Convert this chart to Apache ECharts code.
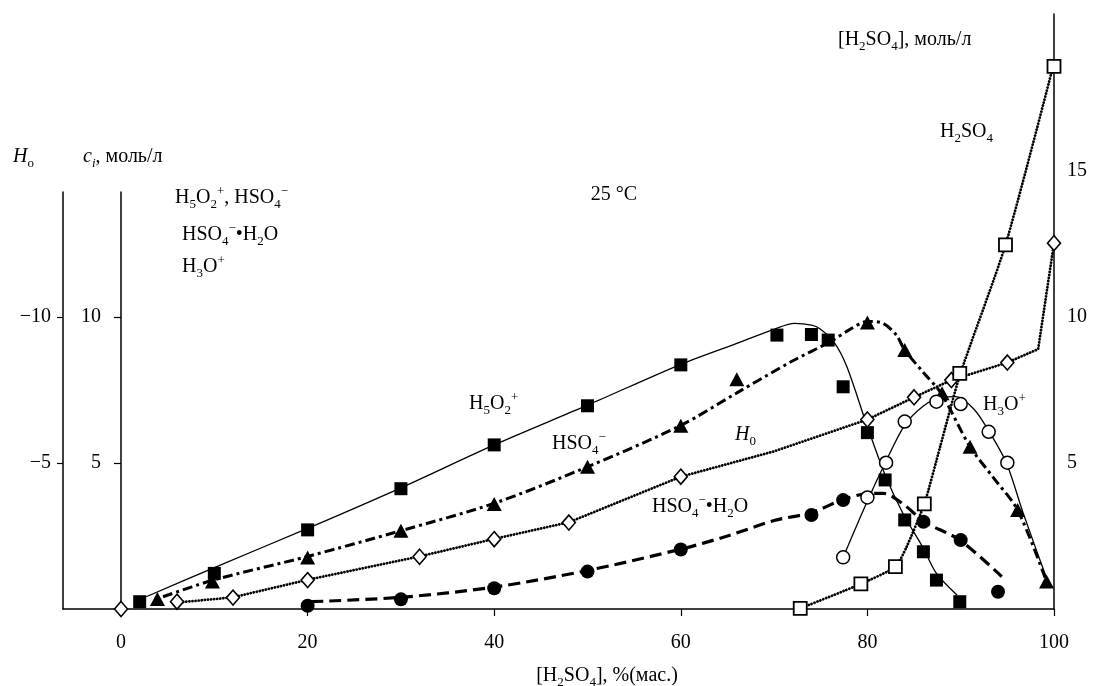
<!DOCTYPE html>
<html><head><meta charset="utf-8">
<script src="https://cdn.jsdelivr.net/npm/echarts@6/dist/echarts.min.js"></script>
<style>html,body{margin:0;padding:0;background:#fff}#c{width:1095px;height:686px}</style>
</head><body><div id="c"></div>
<script>
// ---- tick values ----
const xTicks = [0, 20, 40, 60, 80, 100];
const ciTicks = [5, 10];
const h0Ticks = [-10, -5];
const molTicks = [5, 10, 15];

// ---- measured points [ % H2SO4 , value ] ----
const h5o2Pts = [[2,0.25],[10,1.22],[20,2.71],[30,4.12],[40,5.62],[50,6.96],[60,8.36],[70.3,9.38],[74,9.40],[75.8,9.21],[77.4,7.61],[80,6.04],[81.9,4.42],[84,3.05],[86,1.96],[87.4,0.99],[89.9,0.25]];
const hso4Pts = [[3.9,0.34],[9.8,0.94],[20,1.76],[30,2.68],[40,3.6],[50,4.87],[60,6.28],[66,7.87],[80,9.81],[84,8.87],[88,7.39],[91,5.56],[96.1,3.39],[99.2,0.94]];
const h0Pts = [[0,0],[6,-0.25],[12,-0.39],[20,-0.99],[32,-1.79],[40,-2.39],[48,-2.96],[60,-4.53],[80,-6.49],[85,-7.25],[89,-7.84],[95,-8.44],[100,-12.53]];
const hydPts = [[20,0.11],[30,0.33],[40,0.71],[50,1.28],[60,2.04],[74,3.22],[77.4,3.73],[86,2.99],[90,2.36],[94,0.59]];
const h3oPts = [[77.4,1.77],[80,3.82],[82,5.01],[84,6.42],[87.4,7.1],[90,7.02],[93,6.07],[95,5.01]];
const h2so4Pts = [[72.8,0.02],[79.3,0.86],[83,1.45],[86.1,3.6],[89.9,8.07],[94.8,12.47],[100,18.58]];

// ---- fitted curves ----
const h5o2Curve = [[2.7,0.42],[10,1.42],[20,2.76],[30,4.15],[40,5.62],[50,6.98],[60,8.38],[66,9.1],[70,9.58],[72.2,9.78],[74,9.72],[74.9,9.6],[76.4,9.15],[77.8,8.3],[80,6.24],[81.9,4.59],[83.8,3.28],[86,2.08],[87.4,1.22],[89.6,0.48]];
const hso4Curve = [[4.5,0.42],[10,1.0],[20,1.8],[30,2.68],[40,3.62],[50,4.87],[60,6.29],[66,7.4],[72,8.5],[76,9.15],[78,9.55],[80,9.85],[81.7,9.78],[83.1,9.38],[84,8.87],[86,8.1],[87.9,7.39],[91,5.56],[93.5,4.5],[96.1,3.39],[99.2,0.94]];
const h0Curve = [[6,-0.22],[12,-0.4],[20,-1.0],[32,-1.8],[40,-2.4],[48,-2.97],[60,-4.53],[69.9,-5.39],[80,-6.49],[85,-7.25],[89,-7.84],[95,-8.44],[98.3,-8.9],[100,-12.53]];
const hydCurve = [[20.4,0.25],[30,0.4],[40,0.75],[50,1.32],[60,2.05],[65,2.5],[70,3.03],[74,3.3],[77.4,3.75],[80,3.95],[81.7,3.96],[84.2,3.5],[86,3.0],[89.9,2.36],[94.4,1.11]];
const h3oCurve = [[77.4,1.77],[80,3.7],[81.9,5.0],[84,6.3],[86,6.95],[87.8,7.25],[89.5,7.27],[91.4,6.85],[93,6.1],[94.9,5.0],[96.7,3.28],[99.4,0.88]];
const h2so4Curve = [[72.8,0.02],[79.3,0.86],[83,1.45],[84.2,2.13],[86.1,3.6],[87.8,5.56],[89.9,8.0],[94.8,12.47],[99.9,18.58]];

const F = 'Liberation Serif';
const X_MIN = -6.22, X_MAX = 100;
const Y_MAX_MAIN = 20.377, Y_MAX_LEFT = 14.281;

const RICH = {
  n: {fontFamily: F, fontSize: 20, lineHeight: 26, fill: '#000'},
  i: {fontFamily: F, fontSize: 20, lineHeight: 26, fontStyle: 'italic', fill: '#000'},
  s: {fontFamily: F, fontSize: 13, lineHeight: 12, verticalAlign: 'bottom', fill: '#000'},
  si: {fontFamily: F, fontSize: 13, lineHeight: 12, verticalAlign: 'bottom', fontStyle: 'italic', fill: '#000'},
  p: {fontFamily: F, fontSize: 13, lineHeight: 13, verticalAlign: 'top', fill: '#000'}
};
function txt(x, y, text, align) {
  return {type: 'text', x: x, y: y, z: 10, style: {text: text, rich: RICH, align: align || 'left', verticalAlign: 'middle', fontFamily: F, fontSize: 20, fill: '#000'}};
}

const axisLbl = {fontFamily: F, fontSize: 20, color: '#000'};
const black = {color: '#000', width: 1.5};
const minus = v => (v < 0 ? '\u2212' + Math.abs(v) : String(v));

function lineSeries(data, yIdx, style, smooth) {
  return {type: 'line', data: data, xAxisIndex: 0, yAxisIndex: yIdx, symbol: 'none', showSymbol: false,
    smooth: smooth, clip: false, z: 2, lineStyle: style, silent: true};
}
function scat(data, yIdx, symbol, size, item) {
  return {type: 'scatter', data: data, xAxisIndex: 0, yAxisIndex: yIdx, symbol: symbol, symbolSize: size,
    clip: false, z: 4, itemStyle: Object.assign({opacity: 1}, item), silent: true};
}
const dotted = {color: '#000', width: 2.8, type: [0.1, 3.0], cap: 'round'};

const option = {
  animation: false,
  backgroundColor: '#fff',
  grid: [
    {left: 63, right: 41, top: 14, bottom: 77},
    {left: 63, right: 41, top: 192, bottom: 77}
  ],
  xAxis: [
    {type: 'value', gridIndex: 0, min: X_MIN, max: X_MAX,
     axisLine: {onZero: false, lineStyle: black},
     axisTick: {show: true, customValues: xTicks, length: 7, lineStyle: {color: '#000', width: 1.2}},
     axisLabel: Object.assign({customValues: xTicks, margin: 24}, axisLbl),
     splitLine: {show: false}},
    {type: 'value', gridIndex: 1, min: X_MIN, max: X_MAX, show: false}
  ],
  yAxis: [
    {type: 'value', gridIndex: 0, min: 0, max: Y_MAX_MAIN, show: false, splitLine: {show: false}},
    {type: 'value', gridIndex: 0, position: 'right', min: 0, max: Y_MAX_MAIN,
     axisLine: {show: true, onZero: false, lineStyle: black},
     axisTick: {show: false},
     axisLabel: Object.assign({customValues: molTicks, margin: 13}, axisLbl),
     splitLine: {show: false}},
    {type: 'value', gridIndex: 0, inverse: true, min: -Y_MAX_MAIN, max: 0, show: false, splitLine: {show: false}},
    {type: 'value', gridIndex: 1, position: 'left', inverse: true, min: -Y_MAX_LEFT, max: 0,
     axisLine: {show: true, onZero: false, lineStyle: black},
     axisTick: {show: true, customValues: h0Ticks, length: 6, lineStyle: {color: '#000', width: 1.2}},
     axisLabel: Object.assign({customValues: h0Ticks, margin: 12, formatter: minus}, axisLbl),
     splitLine: {show: false}},
    {type: 'value', gridIndex: 1, position: 'left', offset: -58, min: 0, max: Y_MAX_LEFT,
     axisLine: {show: true, onZero: false, lineStyle: black},
     axisTick: {show: true, customValues: ciTicks, length: 7, lineStyle: {color: '#000', width: 1.2}},
     axisLabel: Object.assign({customValues: ciTicks, margin: 20}, axisLbl),
     splitLine: {show: false}}
  ],
  series: [
    lineSeries(h5o2Curve, 0, {color: '#000', width: 1.3}, 0.3),
    lineSeries(hso4Curve, 0, {color: '#000', width: 3, type: [10, 4, 3, 4]}, 0.3),
    lineSeries(h0Curve, 2, dotted, false),
    lineSeries(hydCurve, 0, {color: '#000', width: 3.2, type: [12, 6]}, 0.3),
    lineSeries(h3oCurve, 0, {color: '#000', width: 1.3}, 0.3),
    lineSeries(h2so4Curve, 1, dotted, 0.2),
    scat(h5o2Pts, 0, 'rect', 13, {color: '#000'}),
    scat(hso4Pts, 0, 'triangle', [15, 14], {color: '#000'}),
    scat(h0Pts, 2, 'diamond', [13, 15], {color: '#fff', borderColor: '#000', borderWidth: 1.6}),
    scat(hydPts, 0, 'circle', 14, {color: '#000'}),
    scat(h3oPts, 0, 'circle', 13, {color: '#fff', borderColor: '#000', borderWidth: 1.5}),
    scat(h2so4Pts, 1, 'rect', 13, {color: '#fff', borderColor: '#000', borderWidth: 1.8})
  ],
  graphic: [
    txt(13, 157, '{i|H}{s|o}'),
    txt(83, 157, '{i|c}{si|i}{n|, моль/л}'),
    txt(175, 198, '{n|H}{s|5}{n|O}{s|2}{p|+}{n|, HSO}{s|4}{p|\u2212}'),
    txt(182, 235, '{n|HSO}{s|4}{p|\u2212}{n|\u2022H}{s|2}{n|O}'),
    txt(182, 267, '{n|H}{s|3}{n|O}{p|+}'),
    txt(637, 195, '{n|25 °C}', 'right'),
    txt(838, 40, '{n|[H}{s|2}{n|SO}{s|4}{n|], моль/л}'),
    txt(940, 132, '{n|H}{s|2}{n|SO}{s|4}'),
    txt(469, 404, '{n|H}{s|5}{n|O}{s|2}{p|+}'),
    txt(552, 444, '{n|HSO}{s|4}{p|\u2212}'),
    txt(735, 435, '{i|H}{s|0}'),
    txt(652, 507, '{n|HSO}{s|4}{p|\u2212}{n|\u2022H}{s|2}{n|O}'),
    txt(983, 405, '{n|H}{s|3}{n|O}{p|+}'),
    txt(607, 676, '{n|[H}{s|2}{n|SO}{s|4}{n|], %(мас.)}', 'center')
  ]
};
const chart = echarts.init(document.getElementById('c'), null, {renderer: 'canvas'});
chart.setOption(option);
</script>
</body></html>
